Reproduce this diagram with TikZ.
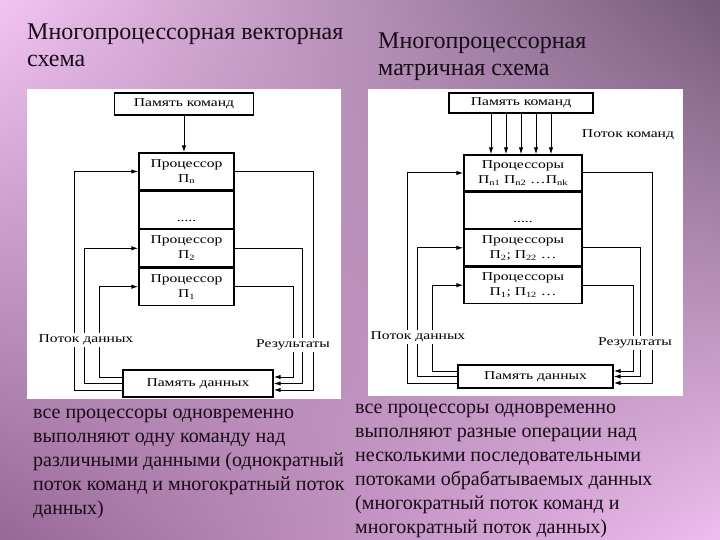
\documentclass[tikz,border=0pt]{standalone}
\usepackage{fontspec}
\setmainfont{Liberation Serif}
\newfontfamily\schemefont{Liberation Serif}[FakeStretch=1.3]
\usetikzlibrary{arrows.meta,positioning,shadings}

\definecolor{bgpink}{RGB}{242,196,242}
\definecolor{bgdark}{RGB}{118,90,122}
\definecolor{bgmauve}{RGB}{150,104,150}
\definecolor{bglight}{RGB}{238,190,238}
\definecolor{txtdark}{RGB}{24,10,24}

\begin{document}
\begin{tikzpicture}[x=1pt,y=-1pt,
  box/.style={draw, line width=1.4pt, fill=white, inner sep=0pt, align=center, font=\schemefont\fontsize{12}{15}\selectfont},
  proc/.style={box, minimum width=95pt, minimum height=37pt},
  procm/.style={proc, minimum width=118pt, minimum height=36pt},
  flow/.style={line width=1pt, -{Latex[length=7pt,width=4.5pt]}},
  lbl/.style={fill=white, inner sep=1.5pt, font=\schemefont\fontsize{12}{15}\selectfont},
  title/.style={anchor=north west, align=left, inner sep=0pt, text=txtdark, font=\fontsize{24}{27}\selectfont},
  body/.style={anchor=north west, align=left, inner sep=0pt, text=txtdark, font=\fontsize{20}{24}\selectfont}]
\useasboundingbox (0,0) rectangle (720,540);
\shade[upper left=bgpink, upper right=bgdark, lower left=bgmauve, lower right=bglight] (0,0) rectangle (720,540);
\fill[white] (27,89) rectangle (341,399);
\fill[white] (368,89) rectangle (683,396);

% titles
\node[title] (titleL) at (27,24) {Многопроцессорная векторная\\схема};
\node[title] (titleR) at (378,33) {Многопроцессорная\\матричная схема};

% vector scheme
\node[box, minimum width=139pt, minimum height=22pt] (cmdL) at (184,104) {Память команд};
\node[proc] (pnL) at (186.5,171.5) {Процессор\\П\textsubscript{n}};
\node[proc, below=0pt of pnL, label={[anchor=south, inner sep=7pt, font=\schemefont\fontsize{12}{15}\selectfont]south:.....}] (dotsL) {};
\node[proc, below=0pt of dotsL] (p2L) {Процессор\\П\textsubscript{2}};
\node[proc, below=0pt of p2L] (p1L) {Процессор\\П\textsubscript{1}};
\node[box, minimum width=150pt, minimum height=27pt] (memL) at (198,383.5) {Память данных};

\draw[flow] (cmdL) -- (cmdL |- pnL.north);
\draw[flow] ([yshift=-6.5pt]memL.west) -- ++(-48,0) |- (pnL.west);
\draw[flow] (memL.west) -- ++(-38,0) |- (p2L.west);
\draw[flow] ([yshift=6.5pt]memL.west) -- ++(-23,0) |- (p1L.west);
\draw[flow] (pnL.east) -- ++(79,0) |- ([yshift=-6.5pt]memL.east);
\draw[flow] (p2L.east) -- ++(68,0) |- (memL.east);
\draw[flow] (p1L.east) -- ++(59,0) |- ([yshift=6.5pt]memL.east);
\node[lbl] (dataL) at (86,340) {Поток данных};
\node[lbl] (resL) at (293,345) {Результаты};

% matrix scheme
\node[box, minimum width=144pt, minimum height=20pt] (cmdR) at (521,103) {Память команд};
\node[procm] (pnR) at (523,173) {Процессоры\\П\textsubscript{n1} П\textsubscript{n2} …П\textsubscript{nk}};
\node[procm, below=0pt of pnR, label={[anchor=south, inner sep=6pt, font=\schemefont\fontsize{12}{15}\selectfont]south:.....}] (dotsR) {};
\node[procm, below=0pt of dotsR] (p2R) {Процессоры\\П\textsubscript{2}; П\textsubscript{22} …};
\node[procm, below=0pt of p2R] (p1R) {Процессоры\\П\textsubscript{1}; П\textsubscript{12} …};
\node[box, minimum width=155pt, minimum height=23pt] (memR) at (535.5,376.5) {Память данных};

\foreach \dx in {-30,-15,0,15,30}
  \draw[flow] ([xshift=\dx pt]cmdR.south) -- ([xshift=\dx pt]cmdR.south |- pnR.north);
\node[lbl, fill=none] (cmdflow) at (628,135) {Поток команд};
\draw[flow] ([yshift=-6.5pt]memR.west) -- ++(-50,0) |- (pnR.west);
\draw[flow] (memR.west) -- ++(-40,0) |- (p2R.west);
\draw[flow] ([yshift=5.5pt]memR.west) -- ++(-25,0) |- (p1R.west);
\draw[flow] (pnR.east) -- ++(70,0) |- ([yshift=-6.5pt]memR.east);
\draw[flow] (p2R.east) -- ++(58,0) |- (memR.east);
\draw[flow] (p1R.east) -- ++(51,0) |- ([yshift=5.5pt]memR.east);
\node[lbl] (dataR) at (418,337) {Поток данных};
\node[lbl] (resR) at (635,343) {Результаты};

% descriptions
\node[body] (descL) at (33,409) {все процессоры одновременно\\выполняют одну команду над\\различными данными (однократный\\поток команд и многократный поток\\данных)};
\node[body] (descR) at (355,404) {все процессоры одновременно\\выполняют разные операции над\\несколькими последовательными\\потоками обрабатываемых данных\\(многократный поток команд и\\многократный поток данных)};
\end{tikzpicture}
\end{document}
